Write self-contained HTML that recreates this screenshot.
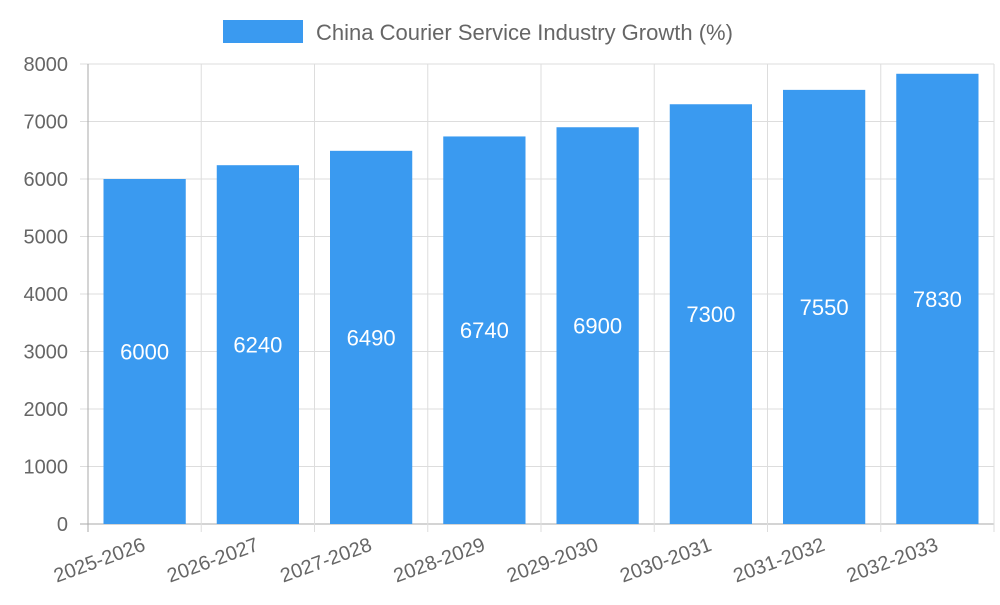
<!DOCTYPE html>
<html><head><meta charset="utf-8"><style>
body{margin:0;background:#fff;font-family:"Liberation Sans",sans-serif;}
svg text{font-family:"Liberation Sans",sans-serif;}
</style></head><body>
<svg id="chart" width="1000" height="600" xmlns="http://www.w3.org/2000/svg">
<g>
<rect x="223" y="20" width="80" height="23" fill="#3a9af0"/>
<text x="316" y="40" font-size="22" fill="#666">China Courier Service Industry Growth (%)</text>
</g>
<g id="grid"></g><g id="bars"></g><g id="labels"></g>
</svg>
<script>
const categories=["2025-2026","2026-2027","2027-2028","2028-2029","2029-2030","2030-2031","2031-2032","2032-2033"];
const values=[6000,6240,6490,6740,6900,7300,7550,7830];
const yTicks=[0,1000,2000,3000,4000,5000,6000,7000,8000];
const NS="http://www.w3.org/2000/svg";
const L=88,R=994,T=64,B=524,yMax=8000;
const bw=(R-L)/categories.length;
const y=v=>B-(v/yMax)*(B-T);
const x=i=>L+i*bw;
function mk(t,a,p){const e=document.createElementNS(NS,t);for(const k in a)e.setAttribute(k,a[k]);p.appendChild(e);return e;}
const grid=document.getElementById('grid'),bars=document.getElementById('bars'),labels=document.getElementById('labels');
yTicks.forEach(t=>{
 const l=mk('line',{x1:L-8,x2:R,y1:y(t),y2:y(t),stroke:t===0?'#aaa':'#ddd','stroke-width':1},grid);
 
 
 const tx=mk('text',{x:L-20,y:y(t)+7,'text-anchor':'end','font-size':20,fill:'#666'},labels);
 tx.textContent=t;
 
 
});
for(let i=0;i<=categories.length;i++){
 const l=mk('line',{x1:x(i),x2:x(i),y1:T,y2:B+8,stroke:i===0?'#aaa':'#ddd','stroke-width':1},grid);
 
 
}
categories.forEach((c,i)=>{
 const bx=x(i)+15.5,w=bw-31;
 const r=mk('rect',{x:bx,y:y(values[i]),width:w,height:B-y(values[i]),fill:'#3a9af0'},bars);
 
 
 const v=mk('text',{x:bx+w/2,y:(y(values[i])+B)/2+8,'text-anchor':'middle','font-size':22,fill:'#fff'},labels);
 v.textContent=values[i];
 
 
 const cx=x(i)+bw/2+2,cy=B+26;
 const t=mk('text',{x:cx,y:cy,'text-anchor':'end','font-size':20,fill:'#666',transform:`rotate(-20 ${cx} ${cy})`},labels);
 t.textContent=c;
 
 
});
</script>
</body></html>
